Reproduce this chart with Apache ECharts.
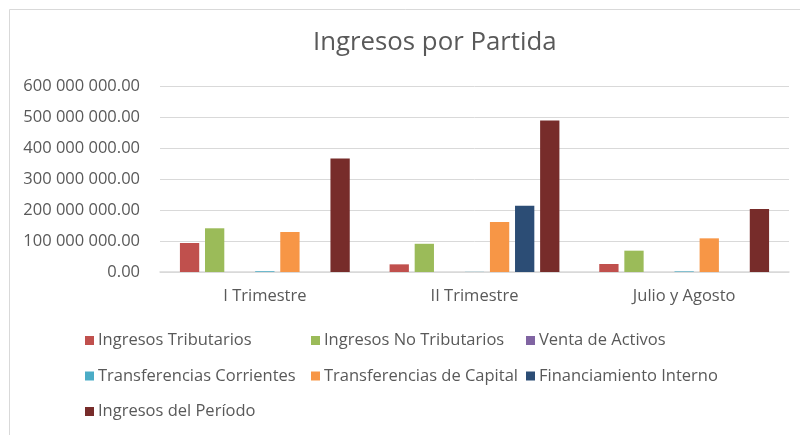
<!DOCTYPE html>
<html>
<head>
<meta charset="utf-8">
<script src="https://cdn.jsdelivr.net/npm/echarts@6/dist/echarts.min.js"></script>
<style>html,body{margin:0;padding:0;background:#fff}#c{width:800px;height:435px}</style>
</head>
<body>
<div id="c"></div>
<script>
const categories = ["I Trimestre", "II Trimestre", "Julio y Agosto"];
const seriesNames = ["Ingresos Tributarios", "Ingresos No Tributarios", "Venta de Activos", "Transferencias Corrientes", "Transferencias de Capital", "Financiamiento Interno", "Ingresos del Período"];
const ingresosTributarios = [93500000, 24700000, 25800000];
const ingresosNoTributarios = [141000000, 91000000, 68800000];
const ventaActivos = [0, 0, 0];
const transferenciasCorrientes = [2500000, 500000, 2000000];
const transferenciasCapital = [129000000, 161000000, 108600000];
const financiamientoInterno = [0, 214000000, 0];
const ingresosPeriodo = [366500000, 489000000, 203500000];
const yTicks = [0, 100000000, 200000000, 300000000, 400000000, 500000000, 600000000];
const colors = ["#C0504D", "#9BBB59", "#8064A2", "#4BACC6", "#F79646", "#2C4D75", "#772C2A"];

const values = [ingresosTributarios, ingresosNoTributarios, ventaActivos, transferenciasCorrientes, transferenciasCapital, financiamientoInterno, ingresosPeriodo];

function fmt(v) {
  const s = Math.round(v).toString().replace(/\B(?=(\d{3})+(?!\d))/g, " ");
  return s + ".00";
}

const font = "'Open Sans', sans-serif";
const txt = "#595959";

function legendCol(names, left) {
  return {
    orient: 'vertical', left: left, top: 325,
    data: names, icon: 'rect', itemWidth: 9, itemHeight: 9, itemGap: 14.5,
    textStyle: { fontFamily: font, fontSize: 16.5, color: txt, lineHeight: 21, padding: [0, 0, 0, -1] },
    selectedMode: false
  };
}

const chart = echarts.init(document.getElementById('c'), null, { renderer: 'canvas' });
chart.setOption({
  animation: false,
  backgroundColor: '#fff',
  color: colors,
  graphic: [{
    type: 'rect', left: 7, top: 7, silent: true,
    shape: { width: 900, height: 500 },
    style: { fill: 'none', stroke: '#D9D9D9', lineWidth: 1 }
  }],
  title: {
    text: 'Ingresos por Partida', left: 308, top: 25,
    textStyle: { fontFamily: font, fontSize: 25.8, fontWeight: 'normal', color: txt }
  },
  legend: [
    legendCol([seriesNames[0], seriesNames[3], seriesNames[6]], 80),
    legendCol([seriesNames[1], seriesNames[4]], 306),
    legendCol([seriesNames[2], seriesNames[5]], 521)
  ],
  grid: { left: 160, right: 11, top: 86, bottom: 163, containLabel: false },
  xAxis: {
    type: 'category', data: categories,
    axisLine: { lineStyle: { color: '#D9D9D9', width: 1.5 } },
    axisTick: { show: false },
    axisLabel: { fontFamily: font, fontSize: 16.5, color: txt, margin: 16 }
  },
  yAxis: {
    type: 'value', min: yTicks[0], max: yTicks[yTicks.length - 1], interval: yTicks[1] - yTicks[0],
    axisLine: { show: false }, axisTick: { show: false },
    splitLine: { lineStyle: { color: '#D9D9D9', width: 1 } },
    axisLabel: { fontFamily: font, fontSize: 16.5, color: txt, margin: 20, formatter: fmt }
  },
  series: seriesNames.map((n, i) => ({
    name: n, type: 'bar', data: values[i],
    barGap: '30%', barCategoryGap: '19%',
    itemStyle: { color: colors[i] }
  }))
});
</script>
</body>
</html>
